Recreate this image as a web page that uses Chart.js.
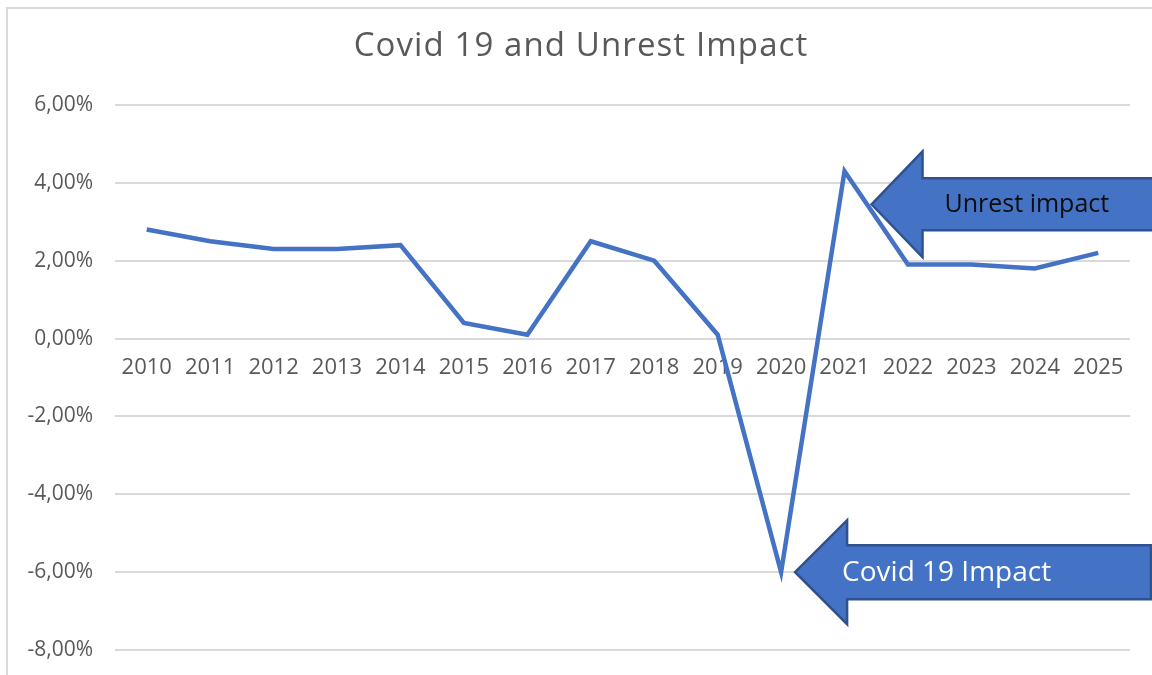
<!DOCTYPE html>
<html>
<head>
<meta charset="utf-8">
<title>Covid 19 and Unrest Impact</title>
<script src="https://cdn.jsdelivr.net/npm/chart.js@4.4.1/dist/chart.umd.min.js"></script>
<style>
  html, body { margin: 0; padding: 0; background: #fff; }
  canvas { display: block; }
</style>
</head>
<body>
<canvas id="impactChart" width="1152" height="675"></canvas>
<script>
// growth rate per year, in percent
const years = ['2010', '2011', '2012', '2013', '2014', '2015', '2016', '2017',
               '2018', '2019', '2020', '2021', '2022', '2023', '2024', '2025'];
const growth = [2.8, 2.5, 2.3, 2.3, 2.4, 0.4, 0.1, 2.5, 2.0, 0.1, -6.0, 4.3, 1.9, 1.9, 1.8, 2.2];
const yTicks = [-8, -6, -4, -2, 0, 2, 4, 6];

const FONT = '"Open Sans", "Noto Sans", sans-serif';
const BLUE = '#4472C4';

// left-pointing block arrow with a label inside the shaft
function blockArrow(ctx, tipX, tipY, headLen, headHalf, shaftHalf, endX, text, textColor, fontSize, textX) {
  ctx.save();
  ctx.beginPath();
  ctx.moveTo(tipX, tipY);
  ctx.lineTo(tipX + headLen, tipY - headHalf);
  ctx.lineTo(tipX + headLen, tipY - shaftHalf);
  ctx.lineTo(endX, tipY - shaftHalf);
  ctx.lineTo(endX, tipY + shaftHalf);
  ctx.lineTo(tipX + headLen, tipY + shaftHalf);
  ctx.lineTo(tipX + headLen, tipY + headHalf);
  ctx.closePath();
  ctx.fillStyle = BLUE;
  ctx.fill();
  ctx.lineWidth = 2.5;
  ctx.lineJoin = 'miter';
  ctx.strokeStyle = '#2F528F';
  ctx.stroke();
  ctx.fillStyle = textColor;
  ctx.font = fontSize + 'px ' + FONT;
  ctx.textAlign = 'left';
  ctx.textBaseline = 'middle';
  ctx.fillText(text, textX, tipY + 1);
  ctx.restore();
}

const decor = {
  id: 'decor',
  beforeDraw(chart) {
    const ctx = chart.ctx;
    ctx.save();
    ctx.strokeStyle = '#d9d9d9';
    ctx.lineWidth = 2;
    ctx.strokeRect(7, 8, 1160, 700);
    ctx.restore();
  },
  afterDatasetsDraw(chart) {
    const ctx = chart.ctx;
    const x = chart.scales.x, y = chart.scales.y;

    ctx.save();
    ctx.fillStyle = '#595959';
    ctx.font = '33px ' + FONT;
    ctx.textAlign = 'center';
    ctx.textBaseline = 'middle';
    ctx.letterSpacing = '1.1px';
    ctx.fillText('Covid 19 and Unrest Impact', 581, 47);
    ctx.restore();

    // unrest arrow points just right of the 2021 peak
    const ux = x.getPixelForValue(11) + 27;
    const uy = y.getPixelForValue(3.45);
    blockArrow(ctx, ux, uy, 51, 53, 26, 1160, 'Unrest impact', '#0d0d0d', 25, ux + 73);

    // covid arrow points at the 2020 low
    const cx = x.getPixelForValue(10) + 14;
    const cy = y.getPixelForValue(-6);
    blockArrow(ctx, cx, cy, 52, 52, 27, 1151, 'Covid 19 Impact', '#ffffff', 28, cx + 47);
  }
};

new Chart(document.getElementById('impactChart'), {
  type: 'line',
  data: {
    labels: years,
    datasets: [{
      data: growth,
      borderColor: BLUE,
      borderWidth: 4.5,
      pointRadius: 0,
      tension: 0,
      fill: false
    }]
  },
  options: {
    responsive: false,
    animation: false,
    layout: { padding: { top: 105, bottom: 25, left: 0, right: 22 } },
    plugins: {
      legend: { display: false },
      tooltip: { enabled: false }
    },
    scales: {
      x: {
        position: { y: 0 },
        offset: true,
        grid: { display: false, drawTicks: false },
        border: { display: false },
        ticks: {
          color: '#595959',
          font: { family: FONT, size: 22 },
          padding: 16,
          maxRotation: 0,
          autoSkip: false
        }
      },
      y: {
        min: yTicks[0],
        max: yTicks[yTicks.length - 1],
        afterFit(scale) {
          scale.width = 115;
          scale.paddingTop = 0;
          scale.paddingBottom = 0;
        },
        afterBuildTicks(scale) { scale.ticks = yTicks.map(v => ({ value: v })); },
        grid: { color: '#d9d9d9', lineWidth: 2, drawTicks: false },
        border: { display: false },
        ticks: {
          color: '#595959',
          font: { family: FONT, size: 21 },
          padding: 22,
          callback: v => v.toFixed(2).replace('.', ',') + '%'
        }
      }
    }
  },
  plugins: [decor]
});
</script>
</body>
</html>
